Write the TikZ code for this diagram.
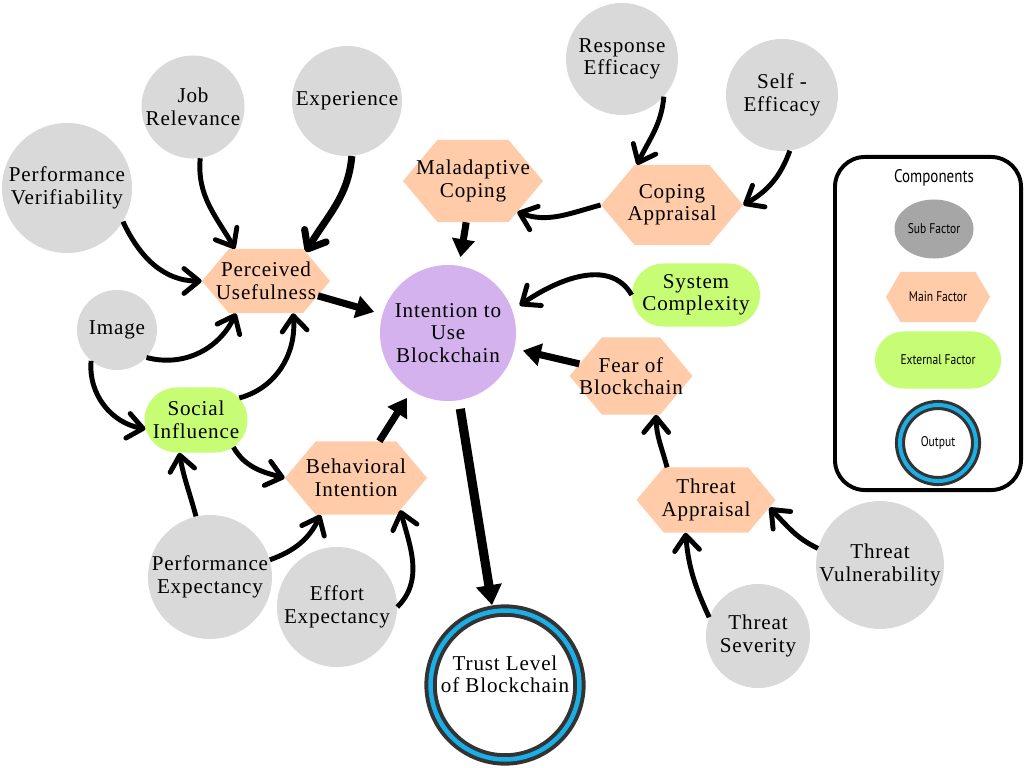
\documentclass[tikz,border=0pt]{standalone}
\usepackage{fontspec}
\setmainfont{Liberation Serif}[LetterSpace=4]
\newfontfamily\legendfont{PT Sans}[FakeStretch=0.82]
\usetikzlibrary{shapes.misc,shapes.geometric,shapes.symbols,arrows.meta}

\definecolor{subgray}{HTML}{D9D9D9}
\definecolor{legendgray}{HTML}{A6A6A6}
\definecolor{mainpeach}{HTML}{FFCBA8}
\definecolor{extgreen}{HTML}{C6FD74}
\definecolor{intentpurple}{HTML}{D3B2EE}
\definecolor{ringblue}{HTML}{1AAFE6}
\definecolor{ringdark}{HTML}{333333}

\tikzset{
  every node/.style={font=\fontsize{15}{16}\selectfont, align=center, inner sep=0pt},
  subfactor/.style={circle, fill=subgray},
  mainfactor/.style={signal, signal to=east and west, signal pointer angle=100, inner xsep=-0.75cm, fill=mainpeach},
  extfactor/.style={rounded rectangle, fill=extgreen},
  outputnode/.style={circle, fill=white, draw=ringdark, double=ringblue, line width=2.8pt, double distance=3.2pt},
  legendtext/.style={font=\legendfont\fontsize{10}{12}\selectfont},
  link/.style={line width=3.5pt, -{Straight Barb[length=0.38cm, width=0.62cm, round]}},
  feed/.style={line width=5pt, -{Triangle[length=0.45cm, width=0.55cm]}},
}

\begin{document}
\begin{tikzpicture}[x=0.025cm, y=0.025cm]
\useasboundingbox (0,0) rectangle (1024,-768);

% sub factors
\node[subfactor, minimum size=3.25cm] (perfver) at (67,-188) {Performance\\Verifiability};
\node[subfactor, minimum size=2.575cm] (jobrel) at (193,-107) {Job\\Relevance};
\node[subfactor, minimum size=2.75cm] (exper) at (347,-101) {Experience};
\node[subfactor, minimum size=2cm] (image) at (117,-330) {Image};
\node[subfactor, minimum size=2.8cm] (respeff) at (622,-59) {Response\\Efficacy};
\node[subfactor, minimum size=2.8cm] (selfeff) at (782,-95) {Self -\\Efficacy};
\node[subfactor, minimum size=3.1cm] (perfexp) at (210,-577) {Performance\\Expectancy};
\node[subfactor, minimum size=3cm] (effexp) at (337,-607) {Effort\\Expectancy};
\node[subfactor, minimum size=3.125cm] (thrvul) at (880,-565) {Threat\\Vulnerability};
\node[subfactor, minimum size=2.6cm] (thrsev) at (758,-636) {Threat\\Severity};

% main factors
\node[mainfactor, minimum width=3.2cm, minimum height=1.6cm] (pu) at (266,-281) {Perceived\\Usefulness};
\node[mainfactor, minimum width=3.5cm, minimum height=2.05cm] (malad) at (473,-181) {Maladaptive\\Coping};
\node[mainfactor, minimum width=3.55cm, minimum height=2cm] (copapp) at (672,-205) {Coping\\Appraisal};
\node[mainfactor, minimum width=3.075cm, minimum height=1.925cm] (fear) at (631,-376) {Fear of\\Blockchain};
\node[mainfactor, minimum width=3.55cm, minimum height=1.825cm] (behint) at (356,-478) {Behavioral\\Intention};
\node[mainfactor, minimum width=3.475cm, minimum height=1.625cm] (thrapp) at (706,-500) {Threat\\Appraisal};

% external factors
\node[extfactor, minimum width=3.2cm, minimum height=1.575cm] (syscomp) at (696,-295) {System\\Complexity};
\node[extfactor, minimum width=2.575cm, minimum height=1.625cm] (socinf) at (196,-420) {Social\\Influence};

\node[circle, fill=intentpurple, minimum size=3.4cm, outer sep=0.22cm] (intent) at (448,-333) {Intention to\\Use\\Blockchain};
\node[outputnode, minimum size=3.72cm, outer sep=4.6pt, text depth=0.55cm] (trust) at (505,-685) {Trust Level\\of Blockchain};

% legend
\node[draw, rounded corners=0.75cm, line width=2.8pt, minimum width=4.65cm, minimum height=8.325cm] (legend) at (928,-323.5) {};
\node[font=\legendfont\fontsize{13}{14}\selectfont] (legtitle) at (934,-178) {Components};
\node[ellipse, fill=legendgray, minimum width=1.975cm, minimum height=1.475cm, legendtext] (legsub) at (934,-229) {Sub Factor};
\node[mainfactor, signal pointer angle=120, inner xsep=0pt, minimum width=2.6cm, minimum height=1.25cm, legendtext] (legmain) at (938,-297) {Main Factor};
\node[extfactor, minimum width=3.15cm, minimum height=1.425cm, legendtext] (legext) at (938,-360) {External Factor};
\node[outputnode, line width=2.2pt, double distance=2.8pt, minimum size=1.9cm, legendtext] (legout) at (938,-443) {Output};

% connectors
\draw[link] (jobrel.-82) to[out=-95, in=120] (pu.134);
\draw[link, line width=5pt] (exper.-85) to[out=-95, in=60] (pu.36);
\draw[link] (perfver.-31) to[out=-65, in=180] (pu.west);
\draw[link] (image.-43) to[out=-15, in=-115] (pu.-133);
\draw[link] (socinf.27) to[out=15, in=-85] (pu.-50);
\draw[link] (image.-130) to[out=-95, in=170] (socinf.190);
\draw[feed] (pu) -- (intent);
\draw[feed] (malad) -- (intent);
\draw[link] (copapp.west) to[out=195, in=-20] (malad.-35);
\draw[link] (respeff.-42) to[out=-95, in=65] (copapp.131);
\draw[link] (selfeff.-82) to[out=-110, in=30] (copapp.east);
\draw[link] (syscomp.west) to[out=120, in=35] (intent.21);
\draw[feed] (fear) -- (intent);
\draw[link] (thrapp.140) to[out=105, in=-90] (fear.-57);
\draw[link] (thrvul.165) to[out=155, in=-45] (thrapp.-7);
\draw[link] (thrsev.159) to[out=115, in=-85] (thrapp.-122);
\draw[feed] (behint) -- (intent);
\draw[feed, line width=6.5pt, -{Triangle[length=0.5cm, width=0.62cm]}] (intent) -- (trust);
\draw[link] (socinf.-36) to[out=-60, in=165] (behint.west);
\draw[link] (perfexp.103) to[out=105, in=-80] (socinf.-117);
\draw[link] (perfexp.16) to[out=20, in=-115] (behint.-134);
\draw[link] (effexp.0) to[out=45, in=-75] (behint.-36);
\end{tikzpicture}
\end{document}
